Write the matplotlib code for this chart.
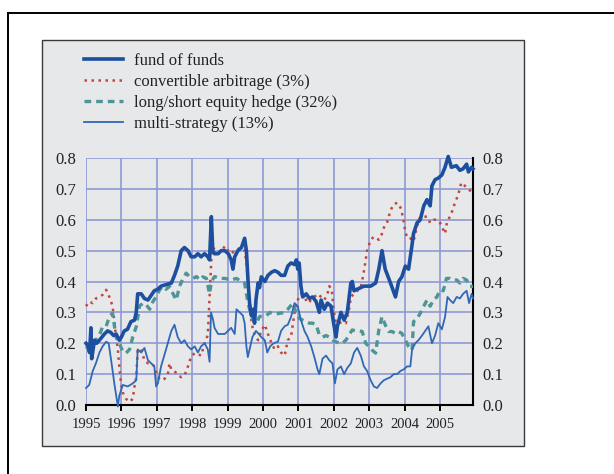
import matplotlib
matplotlib.use("Agg")
import matplotlib.pyplot as plt
from matplotlib.patches import Rectangle
from matplotlib.lines import Line2D

# ---------------- data ----------------
ff_x = [1995.00, 1995.06, 1995.10, 1995.14, 1995.16, 1995.24, 1995.30, 1995.38, 1995.45, 1995.52,
        1995.61, 1995.70, 1995.78, 1995.85, 1995.94, 1996.00, 1996.08, 1996.17, 1996.27, 1996.37,
        1996.42, 1996.46, 1996.56, 1996.65, 1996.75, 1996.84, 1996.93, 1997.03, 1997.12, 1997.26,
        1997.41, 1997.50, 1997.59, 1997.69, 1997.78, 1997.88, 1997.97, 1998.07, 1998.16, 1998.25,
        1998.35, 1998.44, 1998.49, 1998.54, 1998.58, 1998.63, 1998.73, 1998.82, 1998.92, 1999.02,
        1999.10, 1999.15, 1999.20, 1999.29, 1999.39, 1999.48, 1999.53, 1999.58, 1999.62, 1999.67,
        1999.72, 1999.76, 1999.80, 1999.86, 1999.90, 1999.95, 2000.05, 2000.14, 2000.24, 2000.33,
        2000.42, 2000.51, 2000.61, 2000.70, 2000.79, 2000.89, 2000.94, 2000.98, 2001.02, 2001.07,
        2001.12, 2001.22, 2001.31, 2001.40, 2001.50, 2001.59, 2001.64, 2001.73, 2001.82, 2001.92,
        2001.98, 2002.06, 2002.10, 2002.20, 2002.29, 2002.38, 2002.48, 2002.52, 2002.57, 2002.66,
        2002.85, 2003.04, 2003.18, 2003.27, 2003.36, 2003.45, 2003.60, 2003.74, 2003.83, 2003.92,
        2004.02, 2004.11, 2004.21, 2004.25, 2004.35, 2004.44, 2004.54, 2004.63, 2004.72, 2004.77,
        2004.86, 2004.95, 2005.05, 2005.14, 2005.23, 2005.32, 2005.46, 2005.56, 2005.65, 2005.75,
        2005.80, 2005.89, 2005.93]
ff_y = [0.20, 0.19, 0.17, 0.25, 0.15, 0.21, 0.20, 0.21, 0.22, 0.23,
        0.24, 0.235, 0.225, 0.23, 0.21, 0.22, 0.24, 0.245, 0.27, 0.275,
        0.30, 0.36, 0.36, 0.345, 0.34, 0.355, 0.37, 0.375, 0.385, 0.39,
        0.395, 0.42, 0.45, 0.50, 0.51, 0.50, 0.48, 0.48, 0.49, 0.48,
        0.49, 0.48, 0.47, 0.61, 0.50, 0.49, 0.49, 0.50, 0.50, 0.49,
        0.47, 0.44, 0.48, 0.50, 0.51, 0.54, 0.50, 0.395, 0.33, 0.29,
        0.31, 0.265, 0.34, 0.395, 0.38, 0.415, 0.40, 0.42, 0.43, 0.435,
        0.43, 0.42, 0.42, 0.45, 0.46, 0.455, 0.47, 0.44, 0.46, 0.385,
        0.35, 0.36, 0.345, 0.35, 0.335, 0.30, 0.34, 0.31, 0.33, 0.32,
        0.275, 0.22, 0.255, 0.30, 0.275, 0.30, 0.395, 0.40, 0.37, 0.375,
        0.385, 0.385, 0.395, 0.44, 0.50, 0.44, 0.395, 0.35, 0.40, 0.415,
        0.45, 0.44, 0.52, 0.555, 0.59, 0.60, 0.645, 0.665, 0.645, 0.71,
        0.73, 0.735, 0.745, 0.77, 0.805, 0.77, 0.775, 0.76, 0.765, 0.78,
        0.755, 0.77, 0.765]

ca_x = [1995.00, 1995.09, 1995.19, 1995.28, 1995.38, 1995.47, 1995.57, 1995.66, 1995.75, 1995.80,
        1995.85, 1995.90, 1995.94, 1995.99, 1996.04, 1996.13, 1996.23, 1996.32, 1996.37, 1996.42,
        1996.46, 1996.56, 1996.65, 1996.75, 1996.84, 1996.93, 1997.03, 1997.12, 1997.22, 1997.31,
        1997.36, 1997.41, 1997.50, 1997.59, 1997.69, 1997.78, 1997.88, 1997.97, 1998.07, 1998.16,
        1998.25, 1998.35, 1998.44, 1998.49, 1998.54, 1998.58, 1998.68, 1998.82, 1998.92, 1999.01,
        1999.10, 1999.20, 1999.29, 1999.39, 1999.48, 1999.53, 1999.58, 1999.62, 1999.67, 1999.72,
        1999.76, 1999.86, 1999.95, 2000.05, 2000.14, 2000.24, 2000.33, 2000.42, 2000.51, 2000.61,
        2000.70, 2000.79, 2000.89, 2000.98, 2001.07, 2001.17, 2001.26, 2001.36, 2001.45, 2001.54,
        2001.64, 2001.73, 2001.82, 2001.87, 2001.94, 2001.99, 2002.06, 2002.15, 2002.25, 2002.34,
        2002.43, 2002.48, 2002.57, 2002.66, 2002.76, 2002.83, 2002.90, 2002.94, 2003.04, 2003.13,
        2003.21, 2003.27, 2003.36, 2003.43, 2003.50, 2003.60, 2003.69, 2003.79, 2003.88, 2003.95,
        2004.02, 2004.08, 2004.16, 2004.25, 2004.35, 2004.44, 2004.54, 2004.63, 2004.72, 2004.82,
        2004.91, 2005.00, 2005.08, 2005.14, 2005.20, 2005.28, 2005.35, 2005.42, 2005.51, 2005.60,
        2005.70, 2005.79, 2005.89]
ca_y = [0.32, 0.335, 0.33, 0.345, 0.35, 0.357, 0.373, 0.35, 0.32, 0.27,
        0.22, 0.18, 0.125, 0.07, 0.04, 0.02, 0.01, 0.02, 0.06, 0.09,
        0.18, 0.18, 0.145, 0.135, 0.135, 0.125, 0.09, 0.08, 0.085, 0.10,
        0.135, 0.115, 0.11, 0.097, 0.09, 0.095, 0.125, 0.157, 0.168, 0.165,
        0.16, 0.20, 0.227, 0.35, 0.47, 0.51, 0.50, 0.495, 0.515, 0.50,
        0.49, 0.50, 0.505, 0.51, 0.50, 0.46, 0.395, 0.33, 0.275, 0.24,
        0.23, 0.21, 0.24, 0.26, 0.23, 0.20, 0.18, 0.19, 0.17, 0.16,
        0.21, 0.22, 0.30, 0.34, 0.36, 0.35, 0.33, 0.34, 0.35, 0.36,
        0.35, 0.34, 0.36, 0.385, 0.375, 0.31, 0.265, 0.265, 0.27, 0.265,
        0.31, 0.35, 0.36, 0.37, 0.38, 0.42, 0.47, 0.50, 0.535, 0.545,
        0.54, 0.535, 0.555, 0.58, 0.59, 0.63, 0.65, 0.655, 0.64, 0.61,
        0.56, 0.54, 0.54, 0.53, 0.58, 0.61, 0.61, 0.61, 0.59, 0.60,
        0.60, 0.59, 0.57, 0.555, 0.595, 0.61, 0.63, 0.655, 0.68, 0.72,
        0.71, 0.70, 0.69]

ls_x = [1995.00, 1995.09, 1995.19, 1995.28, 1995.38, 1995.47, 1995.57, 1995.66, 1995.75, 1995.85,
        1995.94, 1996.04, 1996.13, 1996.23, 1996.32, 1996.42, 1996.51, 1996.61, 1996.70, 1996.80,
        1996.89, 1996.98, 1997.08, 1997.17, 1997.26, 1997.36, 1997.45, 1997.55, 1997.64, 1997.74,
        1997.83, 1997.92, 1998.02, 1998.12, 1998.21, 1998.30, 1998.40, 1998.49, 1998.54, 1998.63,
        1998.78, 1998.92, 1999.10, 1999.25, 1999.39, 1999.48, 1999.53, 1999.58, 1999.62, 1999.72,
        1999.81, 1999.90, 2000.00, 2000.10, 2000.19, 2000.28, 2000.37, 2000.47, 2000.61, 2000.70,
        2000.84, 2000.93, 2001.03, 2001.12, 2001.22, 2001.31, 2001.40, 2001.50, 2001.59, 2001.68,
        2001.78, 2001.87, 2001.96, 2002.06, 2002.15, 2002.24, 2002.34, 2002.43, 2002.52, 2002.62,
        2002.71, 2002.80, 2002.90, 2002.99, 2003.08, 2003.18, 2003.27, 2003.36, 2003.45, 2003.55,
        2003.64, 2003.74, 2003.83, 2003.92, 2004.02, 2004.11, 2004.21, 2004.25, 2004.35, 2004.44,
        2004.54, 2004.63, 2004.72, 2004.81, 2004.91, 2005.00, 2005.09, 2005.18, 2005.28, 2005.37,
        2005.47, 2005.56, 2005.65, 2005.75, 2005.84, 2005.93]
ls_y = [0.19, 0.18, 0.20, 0.21, 0.227, 0.254, 0.255, 0.286, 0.297, 0.22,
        0.20, 0.173, 0.168, 0.18, 0.22, 0.254, 0.32, 0.33, 0.325, 0.31,
        0.335, 0.35, 0.373, 0.384, 0.375, 0.384, 0.362, 0.34, 0.384, 0.41,
        0.427, 0.416, 0.41, 0.416, 0.405, 0.415, 0.41, 0.36, 0.40, 0.416,
        0.41, 0.41, 0.405, 0.41, 0.40, 0.395, 0.36, 0.33, 0.31, 0.275,
        0.265, 0.286, 0.29, 0.29, 0.30, 0.295, 0.295, 0.297, 0.30, 0.31,
        0.33, 0.30, 0.28, 0.275, 0.27, 0.265, 0.265, 0.26, 0.227, 0.22,
        0.225, 0.22, 0.21, 0.205, 0.20, 0.20, 0.21, 0.227, 0.243, 0.24,
        0.24, 0.238, 0.20, 0.19, 0.178, 0.168, 0.243, 0.286, 0.26, 0.238,
        0.238, 0.232, 0.238, 0.232, 0.21, 0.19, 0.178, 0.27, 0.28, 0.297,
        0.32, 0.34, 0.32, 0.34, 0.35, 0.373, 0.37, 0.41, 0.41, 0.405,
        0.405, 0.395, 0.41, 0.405, 0.384, 0.384]

ms_x = [1995.00, 1995.09, 1995.19, 1995.28, 1995.38, 1995.47, 1995.57, 1995.64, 1995.71, 1995.80,
        1995.90, 1995.94, 1996.04, 1996.18, 1996.32, 1996.42, 1996.46, 1996.56, 1996.65, 1996.75,
        1996.84, 1996.93, 1996.98, 1997.03, 1997.12, 1997.26, 1997.41, 1997.50, 1997.59, 1997.69,
        1997.78, 1997.88, 1997.97, 1998.07, 1998.16, 1998.25, 1998.35, 1998.44, 1998.49, 1998.53,
        1998.58, 1998.63, 1998.73, 1998.92, 1999.01, 1999.10, 1999.20, 1999.25, 1999.34, 1999.43,
        1999.48, 1999.53, 1999.57, 1999.62, 1999.70, 1999.80, 1999.88, 1999.95, 2000.05, 2000.12,
        2000.20, 2000.30, 2000.42, 2000.51, 2000.61, 2000.70, 2000.79, 2000.89, 2000.98, 2001.07,
        2001.17, 2001.26, 2001.36, 2001.45, 2001.54, 2001.59, 2001.68, 2001.78, 2001.87, 2001.96,
        2002.03, 2002.10, 2002.20, 2002.29, 2002.38, 2002.48, 2002.57, 2002.66, 2002.76, 2002.85,
        2002.94, 2003.04, 2003.13, 2003.22, 2003.32, 2003.41, 2003.50, 2003.60, 2003.69, 2003.79,
        2003.88, 2003.97, 2004.07, 2004.16, 2004.21, 2004.30, 2004.39, 2004.49, 2004.58, 2004.67,
        2004.77, 2004.86, 2004.95, 2005.05, 2005.14, 2005.21, 2005.28, 2005.37, 2005.47, 2005.56,
        2005.65, 2005.75, 2005.82, 2005.89, 2005.93]
ms_y = [0.055, 0.065, 0.11, 0.135, 0.17, 0.19, 0.205, 0.20, 0.145, 0.07,
        -0.005, 0.03, 0.065, 0.06, 0.07, 0.08, 0.18, 0.17, 0.185, 0.145,
        0.135, 0.125, 0.06, 0.07, 0.125, 0.18, 0.24, 0.26, 0.22, 0.20,
        0.21, 0.19, 0.18, 0.19, 0.17, 0.19, 0.20, 0.18, 0.14, 0.30,
        0.28, 0.25, 0.23, 0.23, 0.24, 0.25, 0.23, 0.31, 0.30, 0.29,
        0.265, 0.19, 0.155, 0.18, 0.22, 0.24, 0.23, 0.22, 0.21, 0.17,
        0.19, 0.20, 0.205, 0.24, 0.255, 0.26, 0.285, 0.33, 0.32, 0.275,
        0.24, 0.22, 0.19, 0.155, 0.115, 0.10, 0.15, 0.16, 0.145, 0.135,
        0.07, 0.115, 0.125, 0.10, 0.12, 0.135, 0.17, 0.185, 0.16, 0.125,
        0.11, 0.08, 0.06, 0.055, 0.07, 0.08, 0.085, 0.09, 0.10, 0.10,
        0.11, 0.115, 0.125, 0.125, 0.18, 0.20, 0.21, 0.225, 0.24, 0.255,
        0.20, 0.225, 0.265, 0.245, 0.285, 0.35, 0.34, 0.33, 0.35, 0.345,
        0.36, 0.37, 0.33, 0.36, 0.345]

labels = ["fund of funds", "convertible arbitrage (3%)",
          "long/short equity hedge (32%)", "multi-strategy (13%)"]
year_ticks = list(range(1995, 2006))
y_ticks = [0.0, 0.1, 0.2, 0.3, 0.4, 0.5, 0.6, 0.7, 0.8]

# ---------------- figure ----------------
plt.rcParams['font.family'] = ['Liberation Serif', 'DejaVu Serif']
W, H = 614, 474
fig = plt.figure(figsize=(W / 100, H / 100), dpi=100)
fig.patch.set_facecolor('white')

panel_bg = '#e7e8ea'
fig.add_artist(Rectangle((42 / W, 1 - 446 / H), (524 - 42) / W, (446 - 40) / H,
                         transform=fig.transFigure, facecolor=panel_bg,
                         edgecolor='#3a3a3a', linewidth=1.0, zorder=0))
# outer frame (left and top edges visible)
fig.add_artist(Line2D([8 / W, 8 / W], [0, 1 - 13 / H], transform=fig.transFigure,
                      color='black', linewidth=1.4))
fig.add_artist(Line2D([8 / W, 1], [1 - 13 / H, 1 - 13 / H], transform=fig.transFigure,
                      color='black', linewidth=1.4))

ax = fig.add_axes([86 / W, 1 - 405 / H, (473 - 86) / W, (405 - 158) / H])
ax.set_facecolor(panel_bg)
ax.set_xlim(1995, 2005.93)
ax.set_ylim(0, 0.8)

grid_c = '#8d9ad4'
ax.set_xticks(year_ticks)
ax.set_yticks(y_ticks)
ax.grid(True, color=grid_c, linewidth=1.2, zorder=1)
ax.set_axisbelow(True)

for s in ['left', 'top']:
    ax.spines[s].set_visible(False)
for s in ['bottom', 'right']:
    ax.spines[s].set_color('black')
    ax.spines[s].set_linewidth(1.5)

ax.tick_params(axis='x', direction='out', length=4, width=1.4, color='black',
               labelsize=10.5, pad=5)
ax.tick_params(axis='y', length=0, labelsize=12, pad=7,
               left=True, right=True, labelleft=True, labelright=True)
ax.set_yticklabels([f"{v:.1f}" for v in y_ticks])
ax.set_xticklabels([str(y) for y in year_ticks])
for lab in ax.get_yticklabels() + ax.get_xticklabels():
    lab.set_color('#222222')

c_ff = '#1c4f9f'
c_ca = '#c0473d'
c_ls = '#4e9696'
c_ms = '#3068b5'

l2, = ax.plot(ca_x, ca_y, color=c_ca, linewidth=1.8, linestyle=(0, (1, 1.8)),
              zorder=3, clip_on=False)
l3, = ax.plot(ls_x, ls_y, color=c_ls, linewidth=2.4, linestyle=(0, (2.0, 1.5)),
              zorder=3, clip_on=False)
l4, = ax.plot(ms_x, ms_y, color=c_ms, linewidth=1.3, zorder=4, clip_on=False)
l1, = ax.plot(ff_x, ff_y, color=c_ff, linewidth=2.6, zorder=5, clip_on=False)

leg = fig.legend([l1, l2, l3, l4], labels, loc='upper left',
                 bbox_to_anchor=(81 / W, 1 - 50 / H), frameon=False,
                 fontsize=12, handlelength=2.3, handletextpad=0.7,
                 labelspacing=0.3, borderaxespad=0, borderpad=0.2)
for t in leg.get_texts():
    t.set_color('#222222')

fig.savefig('out.png', dpi=100, facecolor='white')
